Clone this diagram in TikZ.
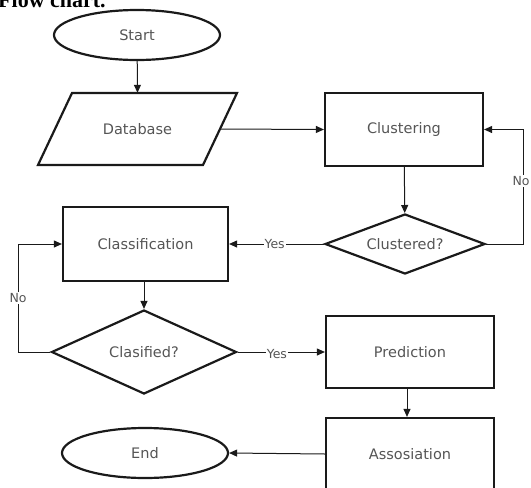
\documentclass[tikz,border=0pt]{standalone}
\usepackage{fontspec}
\setmainfont{DejaVu Sans}
\newfontfamily\titlefont{Liberation Serif}
\usetikzlibrary{shapes.geometric,arrows.meta}
\definecolor{txtgray}{HTML}{555555}
\definecolor{linegray}{HTML}{1A1A1A}
\tikzset{
  boxline/.style={draw=linegray, line width=2.2pt},
  procbox/.style={rectangle, boxline, text=txtgray, font=\fontsize{14.5}{16}\selectfont, inner sep=0pt},
  termbox/.style={ellipse, boxline, text=txtgray, font=\fontsize{14.5}{16}\selectfont, inner sep=0pt},
  decbox/.style={diamond, boxline, text=txtgray, font=\fontsize{14.5}{16}\selectfont, inner sep=0pt, aspect=2.5},
  conn/.style={draw=linegray, line width=1pt, -{Triangle[length=8pt,width=7pt]}},
  lbl/.style={fill=white, text=txtgray, font=\fontsize{12.5}{14}\selectfont, inner sep=1pt}
}
\begin{document}
\begin{tikzpicture}[x=1pt,y=-1pt]
\useasboundingbox (0,0) rectangle (531,488);
\clip (0,0) rectangle (531,488);
% title (clipped at top, as in the reference)
\node[anchor=base west, inner sep=0pt, font=\titlefont\bfseries\fontsize{22}{24}\selectfont] (title) at (-2,7) {Flow chart.};
% nodes
\node[termbox, minimum width=166pt, minimum height=50pt] (start) at (137,35) {Start};
\node[rectangle, inner sep=0pt, minimum width=165pt, minimum height=72pt, text=txtgray, font=\fontsize{14.5}{16}\selectfont] (db) at (137.5,129) {Database};
\draw[boxline, line join=miter] (72,93) -- (237,93) -- (203,165) -- (38,165) -- cycle;
\node[procbox, minimum width=158pt, minimum height=73pt] (clus) at (404,129.5) {Clustering};
\node[decbox, minimum width=160pt, minimum height=60pt] (clusq) at (405,244) {Clustered?};
\node[procbox, minimum width=165pt, minimum height=74pt] (class) at (145.5,244) {Classification};
\node[decbox, minimum width=185pt, minimum height=84pt] (classq) at (144,352) {Clasified?};
\node[procbox, minimum width=168pt, minimum height=72pt] (pred) at (410,352) {Prediction};
\node[procbox, minimum width=168pt, minimum height=72pt] (assoc) at (410,454) {Assosiation};
\node[termbox, minimum width=166pt, minimum height=50pt] (end) at (145,453) {End};
% loop corner coordinates
\coordinate (rloop) at (523,244);
\coordinate (lloop) at (18,352);
% connectors
\draw[conn] (start) -- (db.north);
\draw[conn] (db.east) -- (clus.west);
\draw[conn] (clus) -- (clusq);
\draw[conn] (clusq.west) -- node[lbl, pos=0.52] (yes1) {Yes} (class.east);
\draw[conn] (clusq.east) -- (rloop) -- node[lbl, pos=0.55, xshift=-2pt] (no1) {No} (rloop |- clus.east) -- (clus.east);
\draw[conn] (class.south -| classq.north) -- (classq.north);
\draw[conn] (classq.west) -- (lloop) -- node[lbl, pos=0.5] (no2) {No} (lloop |- class.west) -- (class.west);
\draw[conn] (classq.east) -- node[lbl, pos=0.45, yshift=-2pt] (yes2) {Yes} (pred.west);
\draw[conn] ([xshift=-3pt]pred.south) -- ([xshift=-3pt]assoc.north);
\draw[conn] (assoc.west) -- (end.east);
\end{tikzpicture}
\end{document}
